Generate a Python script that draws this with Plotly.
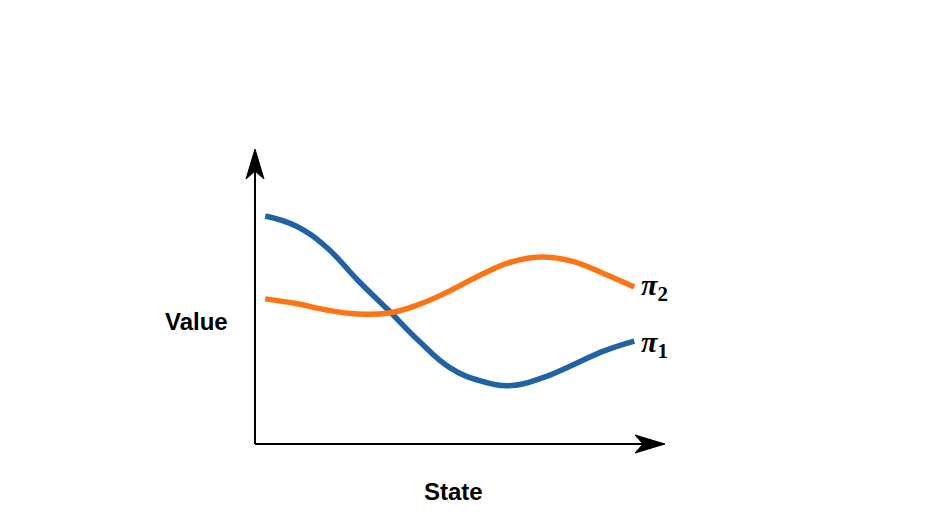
import plotly.graph_objects as go

# data (arbitrary state / value units)
state = [0.25, 1.0, 1.75, 2.5, 3.25, 4.0, 4.75, 5.5, 6.25, 7.0, 7.75, 8.5, 9.25]
value_pi1 = [7.73, 7.39, 6.66, 5.56, 4.54, 3.49, 2.59, 2.14, 1.98, 2.24, 2.68, 3.15, 3.49]
value_pi2 = [4.92, 4.76, 4.54, 4.41, 4.44, 4.73, 5.19, 5.73, 6.17, 6.34, 6.19, 5.78, 5.32]
series_labels = ["<b><i>π</i><sub>1</sub></b>", "<b><i>π</i><sub>2</sub></b>"]
x_label = "State"
y_label = "Value"

BLUE = "#1f62a6"
ORANGE = "#fd7414"

fig = go.Figure()
fig.add_trace(go.Scatter(x=state, y=value_pi1, mode="lines",
                         line=dict(color=BLUE, width=5.5, shape="spline", smoothing=1.2),
                         showlegend=False, hoverinfo="skip"))
fig.add_trace(go.Scatter(x=state, y=value_pi2, mode="lines",
                         line=dict(color=ORANGE, width=5.5, shape="spline", smoothing=1.2),
                         showlegend=False, hoverinfo="skip"))

# axis lines (paper refs so they are not clipped)
fig.add_shape(type="line", x0=0, y0=0, x1=0.97, y1=0, xref="paper", yref="paper",
              line=dict(color="black", width=2))
fig.add_shape(type="line", x0=0, y0=0, x1=0, y1=0.96, xref="paper", yref="paper",
              line=dict(color="black", width=2))
# arrowheads (pixel-sized, anchored to axis ends)
fig.add_shape(type="path", xref="paper", yref="paper", xsizemode="pixel", ysizemode="pixel",
              xanchor=1, yanchor=0,
              path="M 0 0 L -30 9 L -22 0 L -30 -9 Z",
              fillcolor="black", line=dict(color="black", width=1))
fig.add_shape(type="path", xref="paper", yref="paper", xsizemode="pixel", ysizemode="pixel",
              xanchor=0, yanchor=1,
              path="M 0 0 L -9 -30 L 0 -22 L 9 -30 Z",
              fillcolor="black", line=dict(color="black", width=1))

label_font = dict(family="Liberation Serif, Times New Roman, serif", size=30, color="black")
fig.add_annotation(x=state[-1], y=value_pi1[-1], xref="x", yref="y",
                   text=series_labels[0], showarrow=False,
                   xanchor="left", yanchor="middle", xshift=5, yshift=-3, font=label_font)
fig.add_annotation(x=state[-1], y=value_pi2[-1], xref="x", yref="y",
                   text=series_labels[1], showarrow=False,
                   xanchor="left", yanchor="middle", xshift=5, yshift=0, font=label_font)

axis_font = dict(family="Liberation Sans, Arial, sans-serif", size=24, color="black")
fig.add_annotation(x=-0.1415, y=0.4136, xref="paper", yref="paper", text="<b>" + y_label + "</b>",
                   showarrow=False, xanchor="center", yanchor="middle", font=axis_font)
fig.add_annotation(x=0.483, y=-0.1627, xref="paper", yref="paper", text="<b>" + x_label + "</b>",
                   showarrow=False, xanchor="center", yanchor="middle", font=axis_font)

# page body has an 8px margin; compensate so the plot sits where the reference has it
fig.update_layout(
    width=947, height=520,
    margin=dict(l=247, r=290, t=141, b=84, autoexpand=False),
    paper_bgcolor="white", plot_bgcolor="white",
    xaxis=dict(range=[0, 10], visible=False, fixedrange=True),
    yaxis=dict(range=[0, 10], visible=False, fixedrange=True),
)

fig.write_html("out.html")
